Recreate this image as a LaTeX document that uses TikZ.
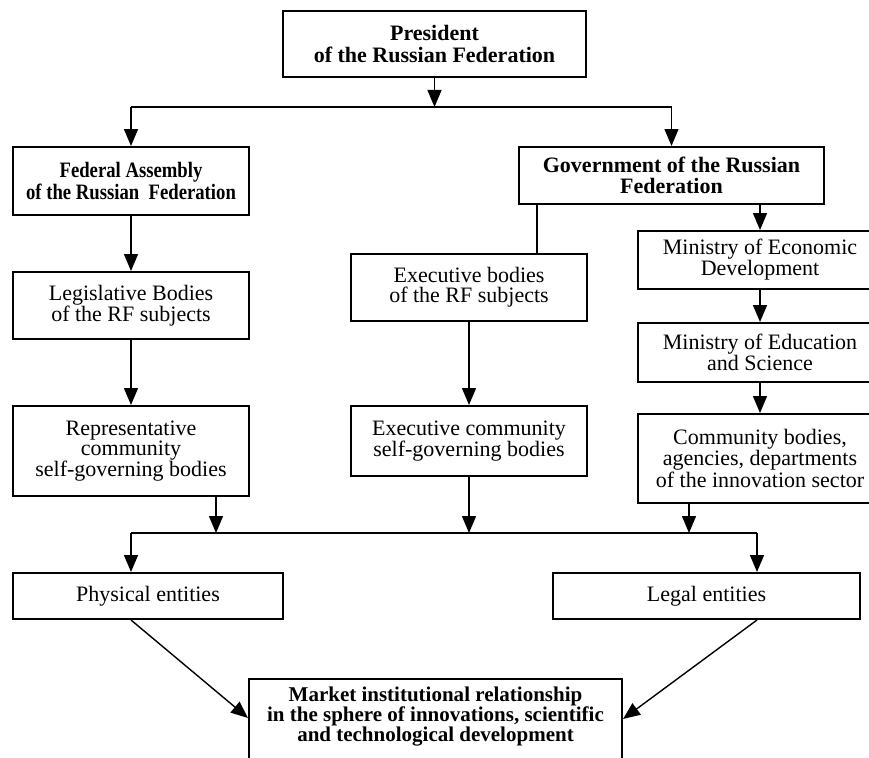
\documentclass[tikz,border=0pt]{standalone}
\usepackage{fontspec}
\setmainfont{Liberation Serif}
\newfontfamily\narrowfont[FakeStretch=0.85]{Liberation Serif}
\usetikzlibrary{arrows.meta}
\usetikzlibrary{calc}

\begin{document}
\begin{tikzpicture}[x=1pt, y=-1pt,
    box/.style={draw, line width=2pt, inner sep=0pt, align=center, font=\fontsize{22}{20}\selectfont},
    boldbox/.style={box, font=\fontsize{22}{21}\selectfont\bfseries},
    arr/.style={-{Triangle[length=17pt, width=14pt]}, line width=1.4pt},
    link/.style={line width=1.4pt}]
  \useasboundingbox (0,0) rectangle (869,757);

      \node[boldbox, minimum width=303, minimum height=66, font=\fontsize{22}{22}\selectfont\bfseries] (pres) at (434.5,44) {President\\of the Russian Federation};
      \node[boldbox, minimum width=236, minimum height=68, font=\narrowfont\fontsize{22}{20}\selectfont\bfseries] (fed) at (131,181) {Federal Assembly\\of the Russian\ \ Federation};
      \node[boldbox, minimum width=305, minimum height=57, font=\fontsize{22}{21}\selectfont\bfseries] (gov) at (671.5,175.5) {Government of the Russian\\Federation};

      \node[box, minimum width=236, minimum height=67] (legis) at (131,305.5) {Legislative Bodies\\of the RF subjects};
      \node[box, minimum width=236, minimum height=90] (repr) at (131,451) {Representative\\community\\self-governing bodies};
      \node[box, minimum width=236, minimum height=67] (execb) at (469,287.5) {Executive bodies\\of the RF subjects};
      \node[box, minimum width=236, minimum height=70] (execc) at (469,441) {Executive community\\self-governing bodies};
      \node[box, minimum width=244, minimum height=58] (minecon) at (760,260) {Ministry of Economic\\Development};
      \node[box, minimum width=244, minimum height=59] (minedu) at (760,352.5) {Ministry of Education\\and Science};
      \node[box, minimum width=244, minimum height=89] (comm) at (760,458.5) {Community bodies,\\agencies, departments\\of the innovation sector};

      \node[box, minimum width=270, minimum height=46] (phys) at (148,596) {Physical entities};
      \node[box, minimum width=307, minimum height=46] (legal) at (706.5,596) {Legal entities};

      % market box runs past the lower edge
      \node[draw, line width=2pt, minimum width=373, minimum height=100, anchor=north] (market) at (435.5,678) {};
      \node[align=center, font=\fontsize{21}{20}\selectfont\bfseries] (markettext) at (435.5,717) {Market institutional relationship\\in the sphere of innovations, scientific\\and technological development};

      \coordinate (topbus) at (434.5,107);
      \coordinate (fedbus) at (131,107);
      \coordinate (govbus) at (671.5,107);
      \coordinate (execlink) at (537,0);
      \coordinate (lowbus) at (469,533);
      \coordinate (reprbus) at (216,533);
      \coordinate (commbus) at (689,533);
      \coordinate (physbus) at (131,533);
      \coordinate (legalbus) at (757,533);
      \coordinate (mleft) at ($(market.north west)+(0,40)$);
      \coordinate (mright) at ($(market.north east)+(0,41)$);

      \draw[arr] (pres.south) -- (topbus);
      \draw[link] (fedbus) -- (govbus);
      \draw[arr] (fedbus) -- (fed);
      \draw[arr] (govbus) -- (gov);

      \draw[arr] (fed) -- (legis);
      \draw[arr] (legis) -- (repr);
      \draw[link] (gov.south -| execlink) -- (execb.north -| execlink);
      \draw[arr] (execb) -- (execc);
      \draw[arr] (gov.south -| minecon) -- (minecon);
      \draw[arr] (minecon) -- (minedu);
      \draw[arr] (minedu) -- (comm);

      \draw[arr] (repr.south -| reprbus) -- (reprbus);
      \draw[arr] (execc) -- (lowbus);
      \draw[arr] (comm.south -| commbus) -- (commbus);
      \draw[link] (physbus) -- (legalbus);
      \draw[arr] (physbus) -- (physbus |- phys.north);
      \draw[arr] (legalbus) -- (legalbus |- legal.north);

      \draw[arr] (phys.south -| physbus) -- (mleft);
      \draw[arr] (legal.south -| legalbus) -- (mright);
\end{tikzpicture}
\end{document}
